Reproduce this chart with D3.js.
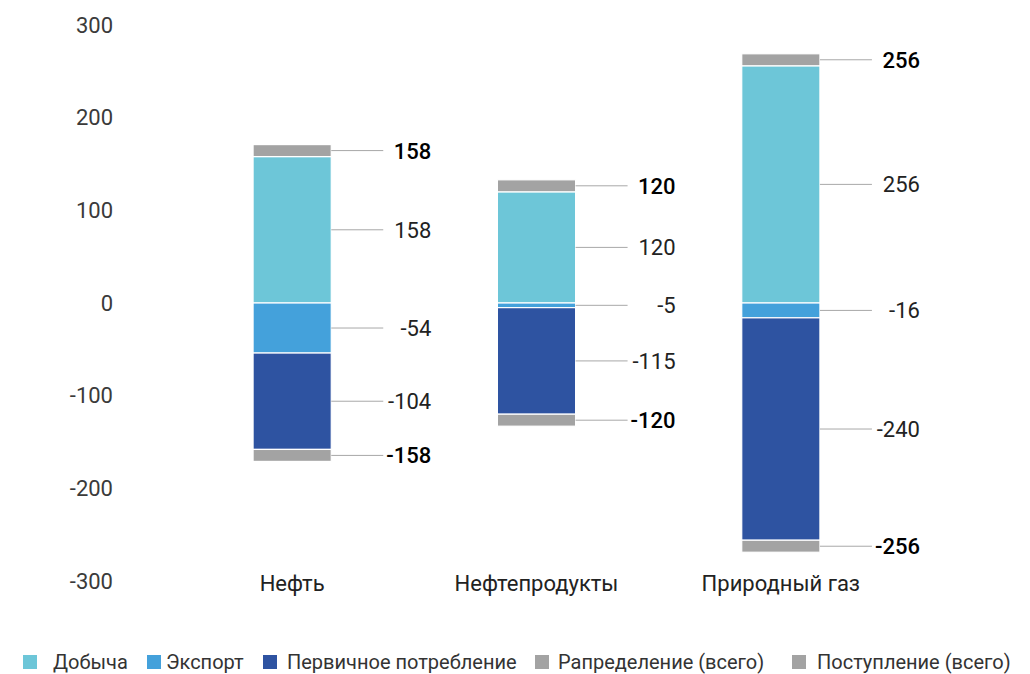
<!DOCTYPE html>
<html>
<head>
<meta charset="utf-8">
<script src="https://cdn.jsdelivr.net/npm/d3@7"></script>
<style>
  html, body { margin: 0; padding: 0; background: #fff; }
  svg { display: block; font-family: Roboto, "Noto Sans", sans-serif; }
</style>
</head>
<body>
<svg id="chart" width="1030" height="674"></svg>
<script>
// Energy balance by resource
const categories = ["Нефть", "Нефтепродукты", "Природный газ"];
const production = [158, 120, 256];      // Добыча
const exportVals = [-54, -5, -16];       // Экспорт
const primaryUse = [-104, -115, -240];   // Первичное потребление
const distribution = [158, 120, 256];    // Распределение (всего)
const receipts = [-158, -120, -256];     // Поступление (всего)
const yTicks = [300, 200, 100, 0, -100, -200, -300];
const legendLabels = ["Добыча", "Экспорт", "Первичное потребление", "Рапределение (всего)", "Поступление (всего)"];

const colors = {
  production: "#6dc6d8",
  export: "#44a1db",
  primary: "#2e53a1",
  total: "#a3a3a3"
};
const legendColors = [colors.production, colors.export, colors.primary, colors.total, colors.total];

const svg = d3.select("#chart");

const y = d3.scaleLinear().domain([-300, 300]).range([581, 25]);
const x = d3.scaleBand().domain(categories).range([170, 903]).paddingInner(0.68).paddingOuter(0.34);

// y axis: labels only, plain hyphen for negatives
const yAxis = svg.append("g")
  .attr("transform", "translate(113,0)")
  .call(d3.axisLeft(y).tickValues(yTicks).tickSize(0).tickPadding(0).tickFormat(d => String(d)));
yAxis.select(".domain").remove();
yAxis.selectAll("text")
  .attr("fill", "#3a3a3a")
  .style("font-size", "22px")
  .style("font-family", "Roboto, sans-serif");

// build segments per category
const segments = [];
const totals = [];
categories.forEach((c, i) => {
  segments.push({ cat: c, y0: 0, y1: production[i], color: colors.production, label: production[i] });
  segments.push({ cat: c, y0: 0, y1: exportVals[i], color: colors.export, label: exportVals[i] });
  segments.push({ cat: c, y0: exportVals[i], y1: exportVals[i] + primaryUse[i], color: colors.primary, label: primaryUse[i] });
  totals.push({ cat: c, value: distribution[i], dir: 1 });
  totals.push({ cat: c, value: receipts[i], dir: -1 });
});

const markerH = 12;
const bw = x.bandwidth();
const lineLen = 52;
const labelOff = 100;

const g = svg.append("g");

// stacked segments
g.selectAll("rect.seg").data(segments).join("rect")
  .attr("class", "seg")
  .attr("x", d => x(d.cat))
  .attr("width", bw)
  .attr("y", d => y(Math.max(d.y0, d.y1)))
  .attr("height", d => Math.abs(y(d.y0) - y(d.y1)))
  .attr("fill", d => d.color)
  .attr("stroke", "#fff")
  .attr("stroke-width", 1.2);

// total markers
g.selectAll("rect.tot").data(totals).join("rect")
  .attr("class", "tot")
  .attr("x", d => x(d.cat))
  .attr("width", bw)
  .attr("y", d => d.dir > 0 ? y(d.value) - markerH : y(d.value))
  .attr("height", markerH)
  .attr("fill", colors.total)
  .attr("stroke", "#fff")
  .attr("stroke-width", 1.2);

// leader lines and labels for segments
const segMid = d => y((d.y0 + d.y1) / 2);
g.selectAll("line.seg").data(segments).join("line")
  .attr("x1", d => x(d.cat) + bw)
  .attr("x2", d => x(d.cat) + bw + lineLen)
  .attr("y1", segMid).attr("y2", segMid)
  .attr("stroke", "#a8a8a8").attr("stroke-width", 1);
g.selectAll("text.seg").data(segments).join("text")
  .attr("x", d => x(d.cat) + bw + labelOff)
  .attr("y", segMid)
  .attr("dy", "0.36em")
  .attr("text-anchor", "end")
  .attr("fill", "#222")
  .style("font-size", "22px")
  .text(d => d.label);

// leader lines and labels for totals
const totMid = d => d.dir > 0 ? y(d.value) - markerH / 2 : y(d.value) + markerH / 2;
g.selectAll("line.tot").data(totals).join("line")
  .attr("x1", d => x(d.cat) + bw)
  .attr("x2", d => x(d.cat) + bw + lineLen)
  .attr("y1", totMid).attr("y2", totMid)
  .attr("stroke", "#a8a8a8").attr("stroke-width", 1);
g.selectAll("text.tot").data(totals).join("text")
  .attr("x", d => x(d.cat) + bw + labelOff)
  .attr("y", totMid)
  .attr("dy", "0.36em")
  .attr("text-anchor", "end")
  .attr("fill", "#000")
  .style("font-size", "22px")
  .style("font-weight", "500")
  .text(d => d.value);

// category labels
svg.append("g").selectAll("text").data(categories).join("text")
  .attr("x", d => x(d) + bw / 2)
  .attr("y", 583)
  .attr("dy", "0.36em")
  .attr("text-anchor", "middle")
  .attr("fill", "#222")
  .style("font-size", "22px")
  .text(d => d);

// legend
const legendSq = [23, 147, 263, 535, 792];
const legendTx = [53, 166, 287, 558, 817];
const legend = svg.append("g").selectAll("g").data(legendLabels).join("g");
legend.append("rect")
  .attr("x", (d, i) => legendSq[i]).attr("y", 655).attr("width", 14).attr("height", 14)
  .attr("fill", (d, i) => legendColors[i]);
legend.append("text")
  .attr("x", (d, i) => legendTx[i])
  .attr("y", 662)
  .attr("dy", "0.36em")
  .attr("fill", "#333")
  .style("font-size", "20px")
  .text(d => d);
</script>
</body>
</html>
